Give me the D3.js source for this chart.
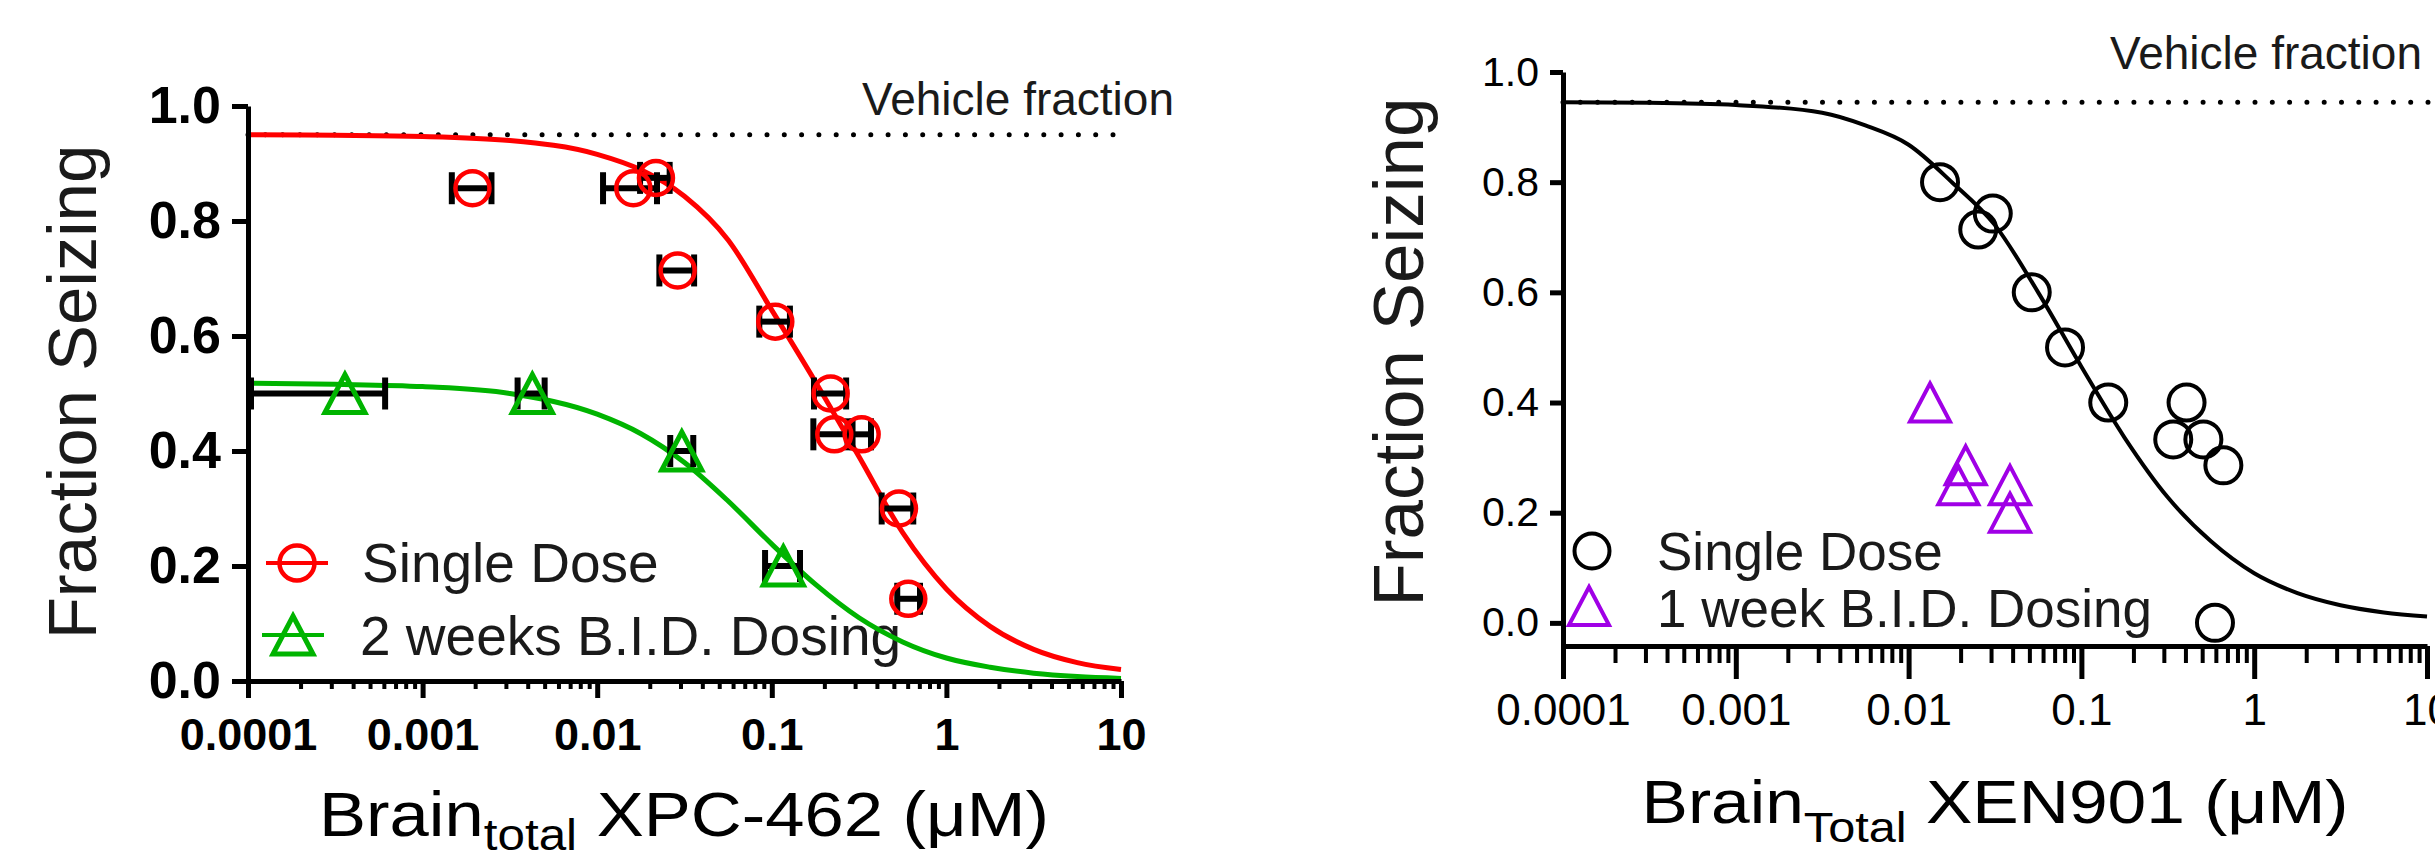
<!DOCTYPE html>
<html>
<head>
<meta charset="utf-8">
<script src="https://cdn.jsdelivr.net/npm/d3@7"></script>
<style>
  body { margin: 0; background: #fff; }
  svg { display: block; }
</style>
</head>
<body>
<div id="chart"></div>
<script>
"use strict";

// ---- values ----
const decadeTicks = [0.0001, 0.001, 0.01, 0.1, 1, 10];
const decadeLabels = ["0.0001", "0.001", "0.01", "0.1", "1", "10"];
const fractionTicks = [0, 0.2, 0.4, 0.6, 0.8, 1.0];

// XPC-462 single dose: [conc, fraction, conc low, conc high]
const xpcSingleDose = [
    [0.00193, 0.857, 0.00147, 0.00248],
    [0.0161, 0.857, 0.0108, 0.0220],
    [0.0217, 0.875, 0.0176, 0.0260],
    [0.0289, 0.714, 0.0227, 0.0359],
    [0.1047, 0.625, 0.0848, 0.127],
    [0.2173, 0.500, 0.1745, 0.2665],
    [0.228, 0.429, 0.173, 0.29],
    [0.327, 0.429, 0.2716, 0.37],
    [0.535, 0.300, 0.426, 0.646],
    [0.605, 0.143, 0.523, 0.706]
];

// XPC-462 2 weeks B.I.D.: [conc, fraction, conc low, conc high]
const xpcTwoWeeks = [
    [0.000359, 0.5, 0.000104, 0.00061],
    [0.00425, 0.5, 0.0035, 0.0050],
    [0.0305, 0.4, 0.0262, 0.0355],
    [0.1164, 0.2, 0.0915, 0.145]
];

// fitted curves: [conc, fraction]
const xpcSingleFit = [
    [0.0001, 0.95], [0.000316, 0.949], [0.001, 0.947], [0.00316, 0.94], [0.01, 0.916],
    [0.0178, 0.889], [0.0316, 0.843], [0.0562, 0.767], [0.1, 0.645], [0.178, 0.52],
    [0.316, 0.39], [0.562, 0.258], [1, 0.16], [1.78, 0.095], [3.16, 0.055], [5.62, 0.032], [10, 0.02]
];
const xpcTwoWeeksFit = [
    [0.0001, 0.518], [0.000316, 0.516], [0.001, 0.512], [0.00316, 0.5], [0.01, 0.464],
    [0.0178, 0.43], [0.0316, 0.38], [0.0562, 0.313], [0.1, 0.238], [0.178, 0.168],
    [0.316, 0.11], [0.562, 0.068], [1, 0.04], [1.78, 0.024], [3.16, 0.0136], [5.62, 0.0077], [10, 0.0045]
];
const xpcVehicle = 0.95;

// XEN901: [conc, fraction]
const xenSingleDose = [
    [0.0152, 0.800], [0.0307, 0.743], [0.0253, 0.714], [0.0516, 0.600], [0.0804, 0.500],
    [0.143, 0.400], [0.406, 0.400], [0.340, 0.333], [0.508, 0.333], [0.663, 0.286], [0.593, 0.0]
];
const xenOneWeek = [
    [0.0133, 0.40], [0.0214, 0.286], [0.0194, 0.25], [0.0386, 0.25], [0.0386, 0.20]
];
const xenSingleFit = [
    [0.0001, 0.945], [0.000316, 0.944], [0.001, 0.94], [0.00316, 0.926], [0.00562, 0.903],
    [0.01, 0.868], [0.0178, 0.80], [0.0316, 0.722], [0.0562, 0.60], [0.1, 0.465], [0.178, 0.336],
    [0.316, 0.228], [0.562, 0.148], [1, 0.09], [1.78, 0.054], [3.16, 0.032], [5.62, 0.019], [10, 0.0115]
];
const xenVehicle = 0.945;

const FONT = "'Liberation Sans', Arial, Helvetica, sans-serif";
const RED = "#ff0000", GREEN = "#00b400", PURPLE = "#a000e6", INK = "#1a1a1a";

const svg = d3.select("#chart").append("svg")
    .attr("width", 2435)
    .attr("height", 858)
    .attr("font-family", FONT);

// minor ticks at 2..9 of each decade
const minorTicks = d3.range(-4, 1).flatMap(e => d3.range(2, 10).map(k => k * Math.pow(10, e)));

function AddLogAxis(x, yPos, o) {
    // minor ticks first
    svg.append("g")
        .attr("transform", `translate(0,${yPos})`)
        .call(d3.axisBottom(x).tickValues(minorTicks).tickSize(o.minorLen).tickFormat(""))
        .call(g => g.select(".domain").remove())
        .call(g => g.selectAll(".tick line").attr("stroke", "#000").attr("stroke-width", 4));

    svg.append("g")
        .attr("transform", `translate(0,${yPos})`)
        .call(d3.axisBottom(x).tickValues(decadeTicks).tickSize(o.majorLen).tickSizeOuter(0)
            .tickPadding(o.pad).tickFormat((d, i) => decadeLabels[i]))
        .call(g => g.select(".domain").attr("stroke", "#000").attr("stroke-width", 5))
        .call(g => g.selectAll(".tick line").attr("stroke", "#000").attr("stroke-width", 5))
        .call(g => g.selectAll(".tick text")
            .attr("fill", "#000")
            .attr("font-family", FONT)
            .attr("font-size", o.fontSize)
            .attr("font-weight", o.weight));
}

function AddFractionAxis(y, xPos, o) {
    svg.append("g")
        .attr("transform", `translate(${xPos},0)`)
        .call(d3.axisLeft(y).tickValues(fractionTicks).tickSize(o.tickLen).tickSizeOuter(0)
            .tickPadding(o.pad).tickFormat(d3.format(".1f")))
        .call(g => g.select(".domain").attr("stroke", "#000").attr("stroke-width", 5))
        .call(g => g.selectAll(".tick line").attr("stroke", "#000").attr("stroke-width", 5))
        .call(g => g.selectAll(".tick text")
            .attr("fill", "#000")
            .attr("font-family", FONT)
            .attr("font-size", o.fontSize)
            .attr("font-weight", o.weight));
}

function AddVehicle(x, y, value, xEnd, label, labelX, labelY) {
    svg.append("line")
        .attr("x1", x(0.0001)).attr("x2", xEnd)
        .attr("y1", y(value)).attr("y2", y(value))
        .attr("stroke", "#000")
        .attr("stroke-width", 5)
        .attr("stroke-linecap", "round")
        .attr("stroke-dasharray", "0 17.3");
    svg.append("text")
        .attr("x", labelX).attr("y", labelY)
        .attr("text-anchor", "end")
        .attr("font-size", 46)
        .attr("fill", INK)
        .text(label);
}

function AddFit(x, y, pts, color, width) {
    const line = d3.line()
        .curve(d3.curveMonotoneX)
        .x(d => x(d[0]))
        .y(d => y(d[1]));
    svg.append("path")
        .datum(pts)
        .attr("fill", "none")
        .attr("stroke", color)
        .attr("stroke-width", width)
        .attr("d", line);
}

function AddErrorBars(x, y, rows) {
    const g = svg.append("g").attr("stroke", "#000").attr("stroke-width", 6);
    rows.forEach(d => {
        g.append("line").attr("x1", x(d[2])).attr("x2", x(d[3])).attr("y1", y(d[1])).attr("y2", y(d[1]));
        [d[2], d[3]].forEach(v => {
            g.append("line").attr("x1", x(v)).attr("x2", x(v))
                .attr("y1", y(d[1]) - 16).attr("y2", y(d[1]) + 16);
        });
    });
}

function TrianglePath(cx, cy) {
    return `M${cx},${cy - 19}L${cx + 20},${cy + 19}L${cx - 20},${cy + 19}Z`;
}

function AddCircles(x, y, rows, color, r, width) {
    svg.append("g")
        .attr("fill", "none")
        .attr("stroke", color)
        .attr("stroke-width", width)
        .selectAll("circle")
        .data(rows)
        .join("circle")
        .attr("cx", d => x(d[0]))
        .attr("cy", d => y(d[1]))
        .attr("r", r);
}

function AddTriangles(x, y, rows, color, width) {
    svg.append("g")
        .attr("fill", "none")
        .attr("stroke", color)
        .attr("stroke-width", width)
        .attr("stroke-linejoin", "miter")
        .selectAll("path")
        .data(rows)
        .join("path")
        .attr("d", d => TrianglePath(x(d[0]), y(d[1])));
}

function AddYTitle(cx, cy, size) {
    svg.append("text")
        .attr("transform", `translate(${cx},${cy}) rotate(-90)`)
        .attr("text-anchor", "middle")
        .attr("font-size", size)
        .attr("fill", INK)
        .text("Fraction Seizing");
}

function AddXTitle(cx, baseline, size, sub, rest, stretch, drop) {
    const t = svg.append("text")
        .attr("transform", `translate(${cx},${baseline}) scale(${stretch},1)`)
        .attr("text-anchor", "middle")
        .attr("font-size", size)
        .attr("fill", "#000");
    t.append("tspan").text("Brain");
    t.append("tspan").attr("font-size", size * 0.7).attr("dy", drop).text(sub);
    t.append("tspan").attr("dy", -drop).text(rest);
}

function AddLegend(items, size) {
    items.forEach(it => {
        if (it.bar) {
            svg.append("line").attr("x1", it.cx - 31).attr("x2", it.cx + 31)
                .attr("y1", it.cy).attr("y2", it.cy)
                .attr("stroke", it.color).attr("stroke-width", 4);
        }
        if (it.kind === "circle") {
            svg.append("circle").attr("cx", it.cx).attr("cy", it.cy).attr("r", 17.5)
                .attr("fill", "none").attr("stroke", it.color).attr("stroke-width", it.width);
        } else {
            svg.append("path").attr("d", TrianglePath(it.cx, it.cy))
                .attr("fill", "none").attr("stroke", it.color).attr("stroke-width", it.width);
        }
        svg.append("text")
            .attr("x", it.tx).attr("y", it.ty)
            .attr("font-size", size)
            .attr("fill", INK)
            .text(it.label);
    });
}

// ---------------- left panel: XPC-462 ----------------
const xL = d3.scaleLog().domain([0.0001, 10]).range([248, 1121]);
const yL = d3.scaleLinear().domain([0, 1]).range([681, 106]);

AddVehicle(xL, yL, xpcVehicle, 1113, "Vehicle fraction", 1174, 115);
AddLegend([
    { kind: "circle", bar: true, cx: 297, cy: 563, color: RED, width: 4.5, tx: 362, ty: 582, label: "Single Dose" },
    { kind: "triangle", bar: true, cx: 293, cy: 635, color: GREEN, width: 5, tx: 360, ty: 655, label: "2 weeks B.I.D. Dosing" }
], 55);
AddFit(xL, yL, xpcSingleFit, RED, 5);
AddFit(xL, yL, xpcTwoWeeksFit, GREEN, 5);
AddErrorBars(xL, yL, xpcSingleDose);
AddErrorBars(xL, yL, xpcTwoWeeks);
AddCircles(xL, yL, xpcSingleDose, RED, 17, 4.5);
AddTriangles(xL, yL, xpcTwoWeeks, GREEN, 5);
AddLogAxis(xL, 681, { minorLen: 8, majorLen: 17, pad: 20, fontSize: 45, weight: "bold" });
AddFractionAxis(yL, 248, { tickLen: 16, pad: 11, fontSize: 52, weight: "bold" });
AddYTitle(96, 392, 69);
AddXTitle(684, 836, 63, "total", " XPC-462 (\u03bcM)", 1.12, 14);

// ---------------- right panel: XEN901 ----------------
const xR = d3.scaleLog().domain([0.0001, 10]).range([1563, 2427]);
const yR = d3.scaleLinear().domain([-0.042, 1]).range([646, 72]);

AddVehicle(xR, yR, xenVehicle, 2430, "Vehicle fraction", 2422, 69);
AddLegend([
    { kind: "circle", bar: false, cx: 1592, cy: 551, color: "#000", width: 4, tx: 1657, ty: 570, label: "Single Dose" },
    { kind: "triangle", bar: false, cx: 1589, cy: 606, color: PURPLE, width: 4, tx: 1657, ty: 627, label: "1 week B.I.D. Dosing" }
], 53);
AddFit(xR, yR, xenSingleFit, "#000", 4);
AddCircles(xR, yR, xenSingleDose, "#000", 18, 4);
AddTriangles(xR, yR, xenOneWeek, PURPLE, 4);
AddLogAxis(xR, 646, { minorLen: 17, majorLen: 33, pad: 15, fontSize: 44, weight: "normal" });
AddFractionAxis(yR, 1563, { tickLen: 13, pad: 11, fontSize: 41, weight: "normal" });
AddYTitle(1423, 352, 71);
AddXTitle(1995, 823, 61, "Total", " XEN901 (\u03bcM)", 1.14, 19);
</script>
</body>
</html>
